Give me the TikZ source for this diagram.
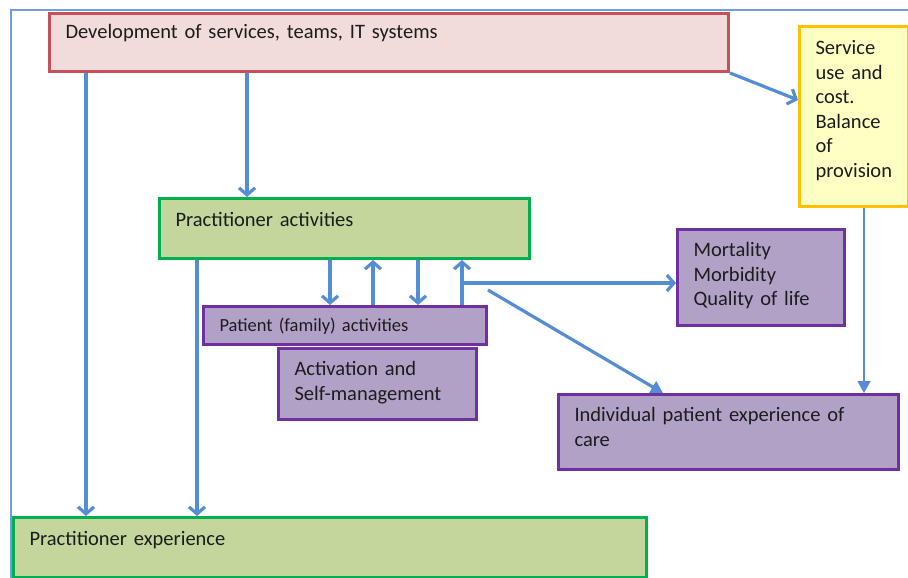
\documentclass[tikz,border=0pt]{standalone}
\usepackage{fontspec}
\setmainfont{Carlito}
\usepackage{tikz}
\usetikzlibrary{arrows.meta}
\definecolor{DevFill}{RGB}{242,220,219}
\definecolor{DevLine}{RGB}{200,80,88}
\definecolor{CostFill}{RGB}{255,255,196}
\definecolor{CostLine}{RGB}{255,192,0}
\definecolor{PracFill}{RGB}{195,214,155}
\definecolor{PracLine}{RGB}{0,176,80}
\definecolor{PatFill}{RGB}{178,161,199}
\definecolor{PatLine}{RGB}{112,48,160}
\definecolor{Flow}{RGB}{84,141,212}
\definecolor{Ink}{RGB}{28,28,28}
\tikzset{box/.style={draw,line width=3pt,anchor=north west,align=left,
  inner xsep=16pt,inner ysep=0pt,text=Ink,font=\fontsize{20.5}{24.6}\selectfont}}
\tikzset{redbox/.style={box,fill=DevFill,draw=DevLine},
  yellowbox/.style={box,fill=CostFill,draw=CostLine},
  greenbox/.style={box,fill=PracFill,draw=PracLine},
  purplebox/.style={box,fill=PatFill,draw=PatLine}}
\tikzset{flow/.style={draw=Flow,line width=3.2pt,-{Straight Barb[length=7pt,width=16pt]}},
  flowtri/.style={draw=Flow,line width=3.2pt,-{Triangle[length=12pt,width=13pt]}}}

\begin{document}
\begin{tikzpicture}[x=1pt,y=-1pt]
\useasboundingbox (0,0) rectangle (908,578);
\draw[Flow!85,line width=1.6pt] (11,578) -- (11,10) -- (908,10);

\node[redbox,text width=647pt,text height=25pt,text depth=33pt] (dev) at (48,12)
  {Development of services, teams, IT systems};
\node[yellowbox,text width=77pt,text height=28pt,text depth=152pt] (cost) at (798,25)
  {Service\\use and\\cost.\\Balance\\of\\provision};
\node[greenbox,text width=338pt,text height=28pt,text depth=32pt] (pact) at (158,197)
  {Practitioner activities};
\node[purplebox,text width=251pt,text height=25pt,text depth=13pt,
  font=\fontsize{18.5}{22}\selectfont] (pfam) at (202,305)
  {Patient (family) activities};
\node[purplebox,text width=166pt,text height=27pt,text depth=44pt] (selfm) at (277,347)
  {Activation and\\Self-management};
\node[purplebox,text width=135pt,text height=27pt,text depth=69pt] (mort) at (676,228)
  {Mortality\\Morbidity\\Quality of life};
\node[purplebox,text width=308pt,text height=27pt,text depth=48pt] (pcare) at (557,393)
  {Individual patient experience of\\care};
\node[greenbox,text width=601pt,text height=28pt,text depth=32pt] (pexp) at (12,516)
  {Practitioner experience};

\draw[flow] (dev.south -| 86,0) -- (pexp.north -| 86,0);
\draw[flow] (dev.south -| 247,0) -- (pact.north -| 247,0);
\draw[flow] (dev.south east) -- (cost.west |- 0,100);
\draw[flow] (pact.south -| 197,0) -- (pexp.north -| 197,0);

\draw[flow] (pact.south -| 330,0) -- (pfam.north -| 330,0);
\draw[flow] (pfam.north -| 373,0) -- (pact.south -| 373,0);
\draw[flow] (pact.south -| 418,0) -- (pfam.north -| 418,0);
\draw[flow] (pfam.north -| 462,0) -- (pact.south -| 462,0);

\coordinate (fork) at (462,283);
\draw[flow] (fork) -- (fork -| mort.west);
\coordinate (diag) at (488,290);
\draw[flowtri] (diag) -- (pcare.north -| 663,0);
\draw[flowtri,line width=1.8pt] (cost.south -| 864,0) -- (pcare.north -| 864,0);
\end{tikzpicture}
\end{document}
